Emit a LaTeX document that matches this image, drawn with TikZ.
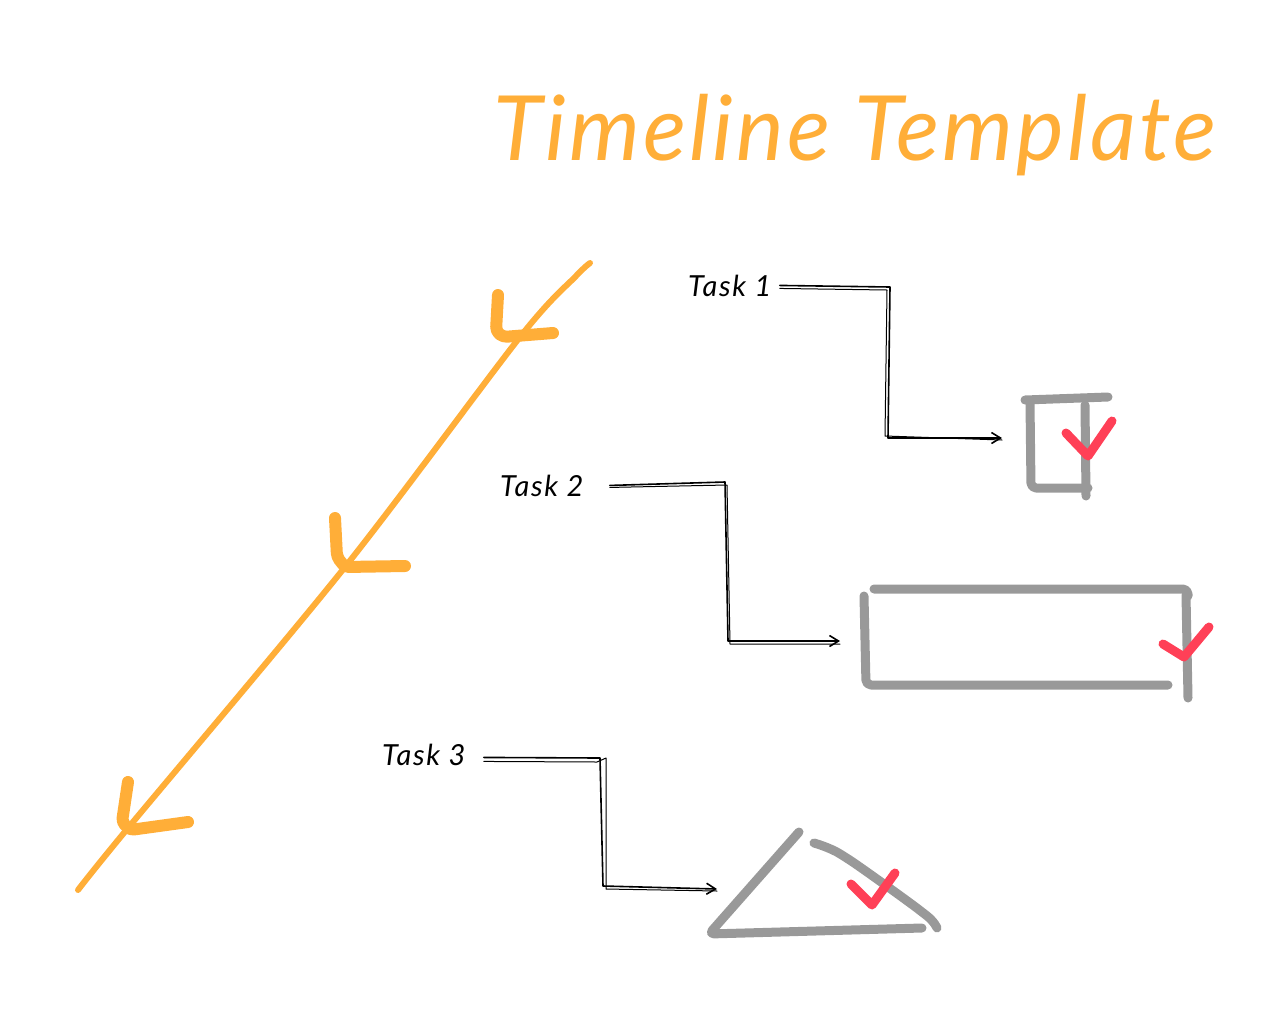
\documentclass[tikz,border=0pt]{standalone}
\usepackage{fontspec}
\setmainfont{Lato}
\usetikzlibrary{arrows.meta}
\definecolor{tlorange}{RGB}{255,174,56}
\definecolor{tlgray}{RGB}{153,153,153}
\definecolor{tlred}{RGB}{255,64,87}
\begin{document}
\begin{tikzpicture}[x=1pt,y=-1pt,line cap=round,line join=round,
  timeline/.style={tlorange,line width=6pt},
  chevron/.style={tlorange,line width=12pt,rounded corners=4pt},
  link/.style={line width=1.6pt},
  outline/.style={tlgray,line width=9pt,rounded corners=5pt},
  checkmark/.style={tlred,line width=9pt},
  task/.style={inner xsep=8pt,inner ysep=0pt,font=\itshape\fontsize{29}{31}\selectfont\addfontfeatures{LetterSpace=6}}]
  \useasboundingbox (0,0) rectangle (1280,1010);
  \node [anchor=base west,inner sep=0pt,text=tlorange,font=\itshape\fontsize{90}{100}\selectfont\addfontfeatures{LetterSpace=3.4}] (title) at (493,160) {Timeline Template};
  % timeline with its three heads
  \draw [timeline] plot [smooth] coordinates {(590,263) (576,276) (520,337) (345,567) (128,828) (78,890)};
  \draw [chevron] (498,295) -- (496,331) -- (503,337) -- (553,333);
  \draw [chevron] (335,518) -- (337,557) -- (345,567) -- (405,566);
  \draw [chevron] (128,782) -- (122,822) -- (130,830) -- (188,822);
  % tasks
  \node [task,anchor=base west] (task1) at (680,296) {Task 1};
  \node [task,anchor=base west] (task2) at (492,496) {Task 2};
  \node [task,anchor=base west] (task3) at (374,765) {Task 3};
  \coordinate (end1) at (1002,438);
  \coordinate (end2) at (840,641);
  \coordinate (end3) at (717,889);
  \draw [link,-{Straight Barb[length=9pt,width=11pt]}] (task1.east) -- (890,287) -- (888,438) -- (end1);
  \draw [link,line width=1pt] ([yshift=-3pt]task1.east) -- (887,290) -- (885,436) -- ([yshift=-2pt]end1);
  \draw [link,-{Straight Barb[length=9pt,width=11pt]}] ([xshift=18pt]task2.east) -- (725,482) -- (728,641) -- (end2);
  \draw [link,line width=1pt] ([xshift=18pt,yshift=-2pt]task2.east) -- (727,485) -- (730,644) -- ([yshift=-3pt]end2);
  \draw [link,-{Straight Barb[length=9pt,width=11pt]}] ([xshift=10pt,yshift=-3pt]task3.east) -- (600,758) -- (603,886) -- (end3);
  \draw [link,line width=1pt] ([xshift=10pt,yshift=-7pt]task3.east) -- (597,762) -- (606,758) -- (606,889) -- ([yshift=-2pt]end3);
  % boxes to tick off
  \draw [outline] (1025,400) -- (1108,397);
  \draw [outline] (1030,402) -- (1031,488) -- (1088,488);
  \draw [outline] (1085,405) -- (1086,496);
  \draw [checkmark] (1066,433) -- (1088,456) -- (1112,421);
  \draw [outline] (874,589) -- (1188,589) -- (1188,596);
  \draw [outline] (864,596) -- (866,685) -- (1168,685);
  \draw [outline] (1186,595) -- (1188,698);
  \draw [checkmark] (1163,644) -- (1184,657) -- (1209,627);
  \draw [outline] (799,832) -- (709,934) -- (922,928);
  \draw [outline] plot [smooth] coordinates {(814,843) (845,857) (922,912) (937,928)};
  \draw [checkmark] (851,884) -- (872,905) -- (895,873);
\end{tikzpicture}
\end{document}
